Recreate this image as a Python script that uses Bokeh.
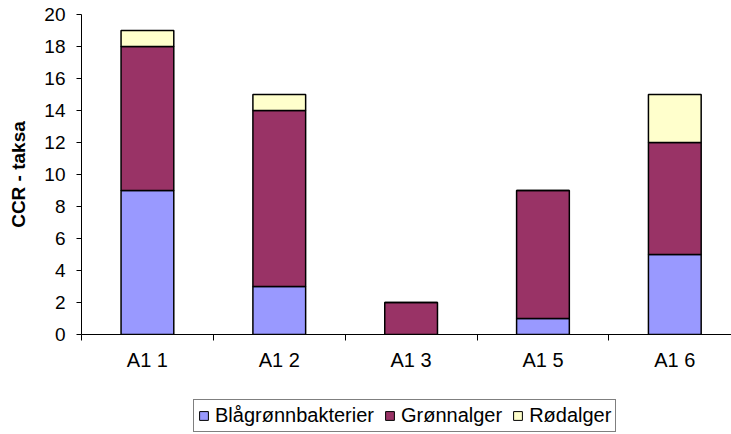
from bokeh.plotting import figure
from bokeh.layouts import column
from bokeh.models import FixedTicker, Legend, LegendItem, ColumnDataSource
from bokeh.embed import file_html
from bokeh.resources import INLINE

categories = ["A1 1", "A1 2", "A1 3", "A1 5", "A1 6"]
blagronn = [9, 3, 0, 1, 5]
gronnalger = [9, 11, 2, 8, 7]
rodalger = [1, 1, 0, 0, 3]
series = ["Blågrønnbakterier", "Grønnalger", "Rødalger"]
colors = ["#9999FF", "#993366", "#FFFFCC"]

xpos = [i + 0.5 for i in range(len(categories))]
src = ColumnDataSource(dict(x=xpos, b=blagronn, g=gronnalger, r=rodalger))

p = figure(width=731, height=380, output_backend="svg", toolbar_location=None,
           x_range=(0, 4.93), y_range=(0, 20),
           min_border_left=81, min_border_top=14, min_border_right=0, min_border_bottom=46)
p.outline_line_color = None
p.xgrid.visible = False
p.ygrid.visible = False

rs = p.vbar_stack(["b", "g", "r"], x="x", width=0.4, source=src, color=colors,
                  line_color="black", line_width=1.5)

font = "Liberation Sans"
p.yaxis.ticker = FixedTicker(ticks=list(range(0, 21, 2)))
p.yaxis.major_tick_in = 0
p.yaxis.major_tick_out = 5
p.yaxis.minor_tick_line_color = None
p.yaxis.axis_line_color = "black"
p.yaxis.major_label_text_font = font
p.yaxis.major_label_text_font_size = "19px"
p.yaxis.major_label_text_color = "black"
p.yaxis.major_label_standoff = 11
p.yaxis.axis_label = "CCR - taksa"
p.yaxis.axis_label_text_font = font
p.yaxis.axis_label_text_font_size = "19px"
p.yaxis.axis_label_text_font_style = "bold"
p.yaxis.axis_label_text_color = "black"
p.yaxis.axis_label_standoff = 12

p.xaxis.ticker = FixedTicker(ticks=xpos, minor_ticks=list(range(0, 6)))
p.xaxis.major_label_overrides = {x: c for x, c in zip(xpos, categories)}
p.xaxis.major_tick_in = 0
p.xaxis.major_tick_out = 0
p.xaxis.minor_tick_in = 0
p.xaxis.minor_tick_out = 6
p.xaxis.minor_tick_line_color = "black"
p.xaxis.axis_line_color = "black"
p.xaxis.major_label_text_font = font
p.xaxis.major_label_text_font_size = "20px"
p.xaxis.major_label_text_color = "black"
p.xaxis.major_label_standoff = 8

# legend strip
q = figure(width=731, height=54, output_backend="svg", toolbar_location=None,
           x_range=(0, 1), y_range=(0, 1),
           min_border_left=0, min_border_top=0, min_border_right=0, min_border_bottom=0)
q.axis.visible = False
q.xgrid.visible = False
q.ygrid.visible = False
q.outline_line_color = None
lr = [q.vbar(x=[5], top=[5], bottom=[4], width=0.1, fill_color=c, line_color="black",
             line_width=1) for c in colors]

legend = Legend(items=[LegendItem(label=s, renderers=[r]) for s, r in zip(series, lr)],
                orientation="horizontal", location=(112, 2))
legend.label_text_font = font
legend.label_text_font_size = "20px"
legend.label_text_color = "black"
legend.glyph_width = 11
legend.glyph_height = 11
legend.label_standoff = 6
legend.spacing = 10
legend.padding = 4
legend.margin = 0
legend.border_line_color = "black"
legend.border_line_width = 1
legend.background_fill_color = "white"
q.add_layout(legend, "center")

layout = column(p, q, spacing=0)
open("out.html", "w").write(file_html(layout, INLINE))
